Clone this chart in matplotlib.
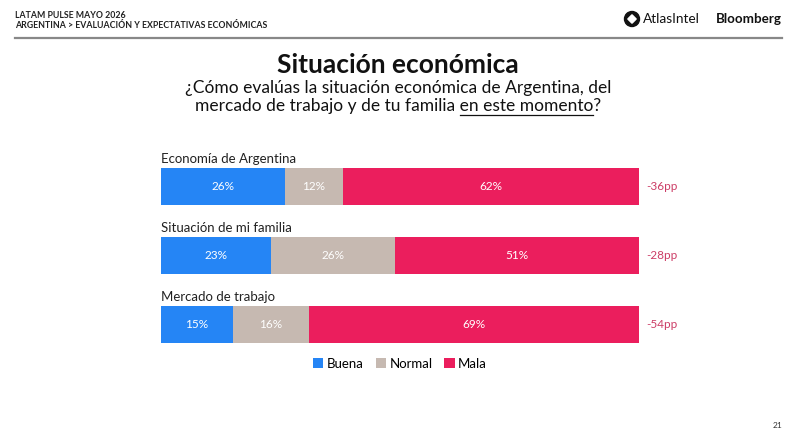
import matplotlib
matplotlib.use("Agg")
import matplotlib.pyplot as plt
from matplotlib.patches import Patch, Polygon, Ellipse
from matplotlib.lines import Line2D

plt.rcParams['font.family'] = ['Lato', 'DejaVu Sans']

categories = ["Economía de Argentina", "Situación de mi familia", "Mercado de trabajo"]
buena = [26, 23, 15]
normal = [12, 26, 16]
mala = [62, 51, 69]
deltas = ["-36pp", "-28pp", "-54pp"]
series_names = ["Buena", "Normal", "Mala"]
colors = ["#2585f5", "#c6b9b1", "#eb1e5d"]

W, H = 796, 448
fig = plt.figure(figsize=(W / 100, H / 100), dpi=100)
fig.patch.set_facecolor("white")

def fx(px):
    return px / W

def fy(py):
    return 1 - py / H

# Header
fig.text(fx(15), fy(15), "LATAM PULSE MAYO 2026", fontsize=6.3, fontweight='bold',
         color="#222222", va='center', ha='left')
fig.text(fx(15), fy(26), "ARGENTINA > EVALUACIÓN Y EXPECTATIVAS ECONÓMICAS", fontsize=6.3,
         fontweight='bold', color="#222222", va='center', ha='left')
fig.add_artist(Line2D([fx(15), fx(782)], [fy(38), fy(38)], color="#888888", lw=1.6,
                      transform=fig.transFigure))

# Logos
cx, cy = 632, 19
fig.add_artist(Ellipse((fx(cx), fy(cy)), 15 / W, 15 / H, color="#111111",
                       transform=fig.transFigure))
d = 4.2
fig.add_artist(Polygon([(fx(cx - d), fy(cy)), (fx(cx), fy(cy - d)), (fx(cx + d), fy(cy)),
                        (fx(cx), fy(cy + d))], closed=True, color="white",
                       transform=fig.transFigure))
fig.text(fx(643), fy(19), "AtlasIntel", fontsize=9.8, color="#111111", va='center', ha='left')
fig.text(fx(782), fy(19), "Bloomberg", fontsize=9.6, fontweight='bold', color="#111111",
         va='center', ha='right')

# Title and subtitle
fig.text(0.5, fy(65), "Situación económica", fontsize=19, fontweight='bold',
         color="#111111", ha='center', va='center')
fig.text(0.5, fy(88), "¿Cómo evalúas la situación económica de Argentina, del",
         fontsize=12.5, color="#111111", ha='center', va='center')
line2 = "mercado de trabajo y de tu familia en este momento?"
t2 = fig.text(0.5, fy(106), line2, fontsize=12.5, color="#111111", ha='center', va='center')

fig.canvas.draw()
r = fig.canvas.get_renderer()
bb_full = t2.get_window_extent(r)
tmp1 = fig.text(0, 0, "mercado de trabajo y de tu familia en este momento", fontsize=12.5)
tmp2 = fig.text(0, 0, "en este momento", fontsize=12.5)
w1 = tmp1.get_window_extent(r).width
w2 = tmp2.get_window_extent(r).width
tmp1.remove(); tmp2.remove()
x_end = bb_full.x0 + w1
x_start = x_end - w2
fig.add_artist(Line2D([x_start / W, x_end / W], [fy(115), fy(115)], color="#111111", lw=0.9,
                      transform=fig.transFigure))

# Bars axes
ax_top, ax_bot = 140, 360
ax = fig.add_axes([fx(161), fy(ax_bot), fx(639) - fx(161), (ax_bot - ax_top) / H])
spacing = 69.0
top_off = (186.5 - ax_top) / spacing
ax.set_ylim(-top_off + (ax_bot - ax_top) / spacing, -top_off)
ax.set_xlim(0, 100)
ax.axis('off')
bh = 37 / spacing

ypos = list(range(len(categories)))
left = [0] * len(categories)
for vals, c, name in zip([buena, normal, mala], colors, series_names):
    ax.barh(ypos, vals, left=left, height=bh, color=c, label=name)
    for y, v, l in zip(ypos, vals, left):
        ax.text(l + v / 2, y, f"{v}%", color="white", fontsize=8.5, ha='center', va='center')
    left = [a + b for a, b in zip(left, vals)]

for y, cat, dl in zip(ypos, categories, deltas):
    ax.text(0, y - bh / 2 - 0.05, cat, fontsize=9.5, color="#222222", ha='left', va='bottom')
    ax.text(101.6, y, dl, fontsize=8.5, color="#cc3d66", ha='left', va='center')

handles = [Patch(facecolor=c, edgecolor='none') for c in colors]
fig.legend(handles, series_names, loc='center', bbox_to_anchor=(fx(400), fy(364)), ncol=3,
           frameon=False, fontsize=9.5, handlelength=0.8, handleheight=0.8,
           handletextpad=0.25, columnspacing=0.9)

fig.text(fx(782), fy(425), "21", fontsize=6, color="#333333", ha='right', va='center')

fig.savefig("out.png", dpi=100)
